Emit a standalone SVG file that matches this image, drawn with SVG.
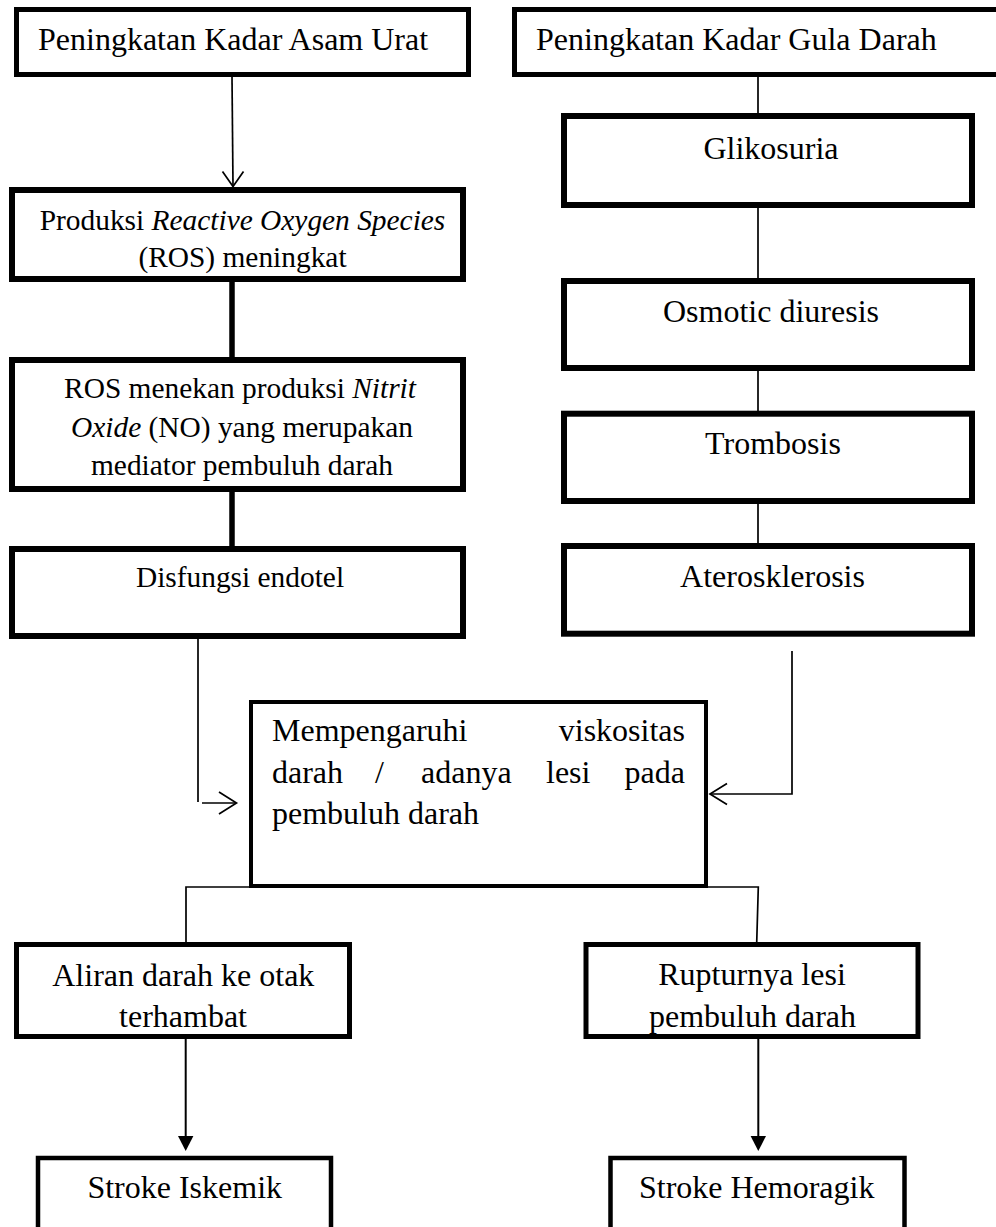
<svg xmlns="http://www.w3.org/2000/svg" width="996" height="1227" viewBox="0 0 996 1227">
<style>
  .box { fill: #ffffff; stroke: #000000; stroke-width: 5; }
  .boxm { fill: #ffffff; stroke: #000000; stroke-width: 4; }
  .t { font-family: "Liberation Serif", "Times New Roman", serif; font-size: 32px; fill: #000000; }
  .ts { font-family: "Liberation Serif", "Times New Roman", serif; font-size: 29.4px; fill: #000000; }
  .c { text-anchor: middle; }
  .thin { fill: none; stroke: #000000; stroke-width: 1.7; }
  .thick { fill: none; stroke: #000000; stroke-width: 5.5; }
  .med { fill: none; stroke: #000000; stroke-width: 2; }
  .head { fill: #000000; stroke: none; }
</style>
<rect x="0" y="0" width="996" height="1227" fill="#ffffff"/>

<g id="connectors">
  <!-- Asam Urat -> ROS -->
  <line class="thin" x1="232" y1="77" x2="233" y2="186"/>
  <polyline class="thin" points="222.5,171.5 233,186.5 243.5,171.5"/>
  <!-- ROS -> ROS menekan -->
  <line class="thick" x1="232" y1="281" x2="232" y2="358"/>
  <!-- ROS menekan -> Disfungsi -->
  <line class="thick" x1="232" y1="491" x2="232" y2="548"/>
  <!-- Disfungsi -> middle -->
  <line class="thin" x1="198" y1="638" x2="198" y2="802"/>
  <line class="thin" x1="202" y1="803" x2="236" y2="803"/>
  <polyline class="thin" points="219,792 236.5,803 219,814"/>
  <!-- Right column -->
  <line class="thin" x1="758" y1="77" x2="758" y2="114"/>
  <line class="thin" x1="758" y1="207" x2="758" y2="279"/>
  <line class="thin" x1="758" y1="370" x2="758" y2="411"/>
  <line class="thin" x1="758" y1="503" x2="758" y2="544"/>
  <!-- Aterosklerosis -> middle -->
  <polyline class="thin" points="792,651 792,794 710,794"/>
  <polyline class="thin" points="727,783.5 710,794 727,804.5"/>
  <!-- middle -> bottom branches -->
  <polyline class="thin" points="249,887 186,887 186,943"/>
  <polyline class="thin" points="708,887 758.3,887 756.7,943"/>
  <!-- bottom arrows -->
  <line class="med" x1="185.7" y1="1030" x2="185.7" y2="1138"/>
  <polygon class="head" points="178,1136 193.4,1136 185.7,1151"/>
  <line class="med" x1="758.3" y1="1030" x2="758.3" y2="1138"/>
  <polygon class="head" points="750.6,1136 766,1136 758.3,1151"/>
</g>

<g id="node-asam-urat">
  <rect class="box" x="16.5" y="9.5" width="452" height="65"/>
  <text class="t" x="38" y="50">Peningkatan Kadar Asam Urat</text>
</g>

<g id="node-gula-darah">
  <rect class="box" x="514.5" y="9.5" width="495" height="65"/>
  <text class="t" x="536" y="50">Peningkatan Kadar Gula Darah</text>
</g>

<g id="node-ros">
  <rect class="box" x="12" y="190" width="451" height="89" style="stroke-width:6"/>
  <text class="ts c" x="242.5" y="230">Produksi <tspan font-style="italic">Reactive Oxygen Species</tspan></text>
  <text class="ts c" x="242.5" y="267">(ROS) meningkat</text>
</g>

<g id="node-ros-menekan">
  <rect class="box" x="12" y="360" width="451" height="129" style="stroke-width:6"/>
  <text class="ts c" x="240" y="398">ROS menekan produksi <tspan font-style="italic">Nitrit</tspan></text>
  <text class="ts c" x="242" y="436.7"><tspan font-style="italic">Oxide</tspan> (NO) yang merupakan</text>
  <text class="ts c" x="242" y="475">mediator pembuluh darah</text>
</g>

<g id="node-disfungsi">
  <rect class="box" x="12" y="549" width="451" height="87" style="stroke-width:6"/>
  <text class="ts c" x="240" y="587">Disfungsi endotel</text>
</g>

<g id="node-glikosuria">
  <rect class="box" x="564" y="116" width="408" height="89" style="stroke-width:6"/>
  <text class="t c" x="771" y="159">Glikosuria</text>
</g>

<g id="node-osmotic">
  <rect class="box" x="564" y="281" width="408" height="87" style="stroke-width:6"/>
  <text class="t c" x="771" y="321.7">Osmotic diuresis</text>
</g>

<g id="node-trombosis">
  <rect class="box" x="564" y="413.7" width="408" height="87.3" style="stroke-width:6"/>
  <text class="t c" x="773" y="454">Trombosis</text>
</g>

<g id="node-aterosklerosis">
  <rect class="box" x="564" y="546" width="408" height="87.7" style="stroke-width:6"/>
  <text class="t c" x="772.5" y="586.7">Aterosklerosis</text>
</g>

<g id="node-viskositas">
  <rect class="boxm" x="251" y="702" width="455" height="184"/>
  <text class="t" x="272" y="741">Mempengaruhi</text>
  <text class="t" x="685" y="741" text-anchor="end">viskositas</text>
  <text class="t" x="272" y="783">darah</text>
  <text class="t" x="375" y="783">/</text>
  <text class="t" x="421" y="783">adanya</text>
  <text class="t" x="546" y="783">lesi</text>
  <text class="t" x="685" y="783" text-anchor="end">pada</text>
  <text class="t" x="272" y="824">pembuluh darah</text>
</g>

<g id="node-aliran">
  <rect class="box" x="16.5" y="944.5" width="333" height="92"/>
  <text class="t c" x="183.3" y="986">Aliran darah ke otak</text>
  <text class="t c" x="183" y="1026.7">terhambat</text>
</g>

<g id="node-ruptur">
  <rect class="box" x="586" y="944.5" width="332" height="92"/>
  <text class="t c" x="752" y="985">Rupturnya lesi</text>
  <text class="t c" x="752.5" y="1026.7">pembuluh darah</text>
</g>

<g id="node-iskemik">
  <rect class="boxm" x="38" y="1158" width="293" height="90" style="stroke-width:4.5"/>
  <text class="t c" x="184.7" y="1198">Stroke Iskemik</text>
</g>

<g id="node-hemoragik">
  <rect class="boxm" x="610.5" y="1158" width="294" height="90" style="stroke-width:4.5"/>
  <text class="t c" x="756.7" y="1198">Stroke Hemoragik</text>
</g>
</svg>
